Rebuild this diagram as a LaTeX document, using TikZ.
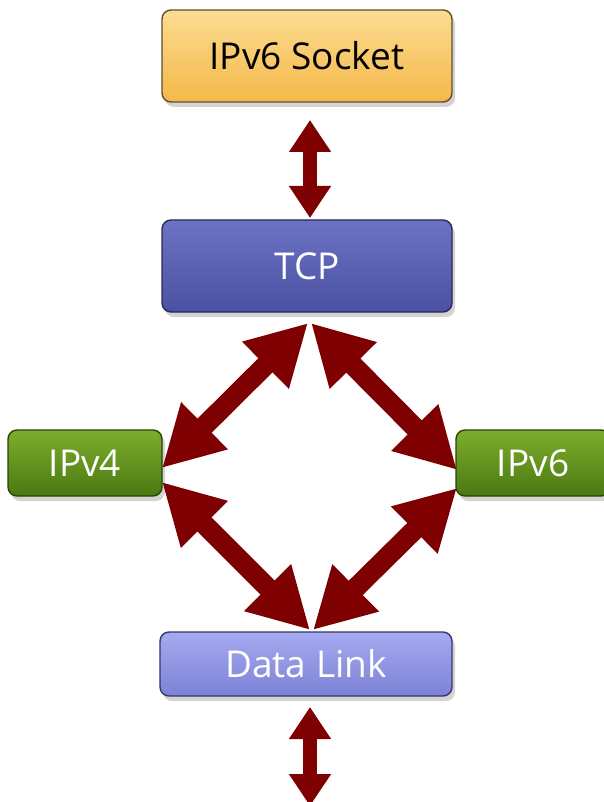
\documentclass[tikz,border=0pt]{standalone}
\usepackage{fontspec}
\setmainfont{Open Sans}
\usetikzlibrary{arrows.meta,shadows,calc}

\definecolor{sockTop}{HTML}{FCDC92}
\definecolor{sockBot}{HTML}{F4B848}
\definecolor{sockEdge}{HTML}{5E5030}
\definecolor{tcpTop}{HTML}{6D73C4}
\definecolor{tcpBot}{HTML}{4A50A2}
\definecolor{tcpEdge}{HTML}{262A58}
\definecolor{ipTop}{HTML}{7CAE2C}
\definecolor{ipBot}{HTML}{4C7812}
\definecolor{ipEdge}{HTML}{2A4406}
\definecolor{dlTop}{HTML}{A6AAF0}
\definecolor{dlBot}{HTML}{7C82D6}
\definecolor{dlEdge}{HTML}{34386A}
\definecolor{arrowRed}{HTML}{7E0000}

\tikzset{
  layer/.style={rectangle, rounded corners=9pt, line width=1.4pt,
    inner sep=0pt, font=\fontsize{37}{44}\selectfont,
    drop shadow={shadow xshift=3pt, shadow yshift=-5pt, opacity=0.35}},
  socket/.style={layer, draw=sockEdge, top color=sockTop, bottom color=sockBot,
    text=black, minimum width=290pt, minimum height=92pt},
  tcpbox/.style={layer, draw=tcpEdge, top color=tcpTop, bottom color=tcpBot,
    text=white, minimum width=290pt, minimum height=92pt},
  ipbox/.style={layer, draw=ipEdge, top color=ipTop, bottom color=ipBot,
    text=white, minimum width=154pt, minimum height=66pt},
  linkbox/.style={layer, draw=dlEdge, top color=dlTop, bottom color=dlBot,
    text=white, minimum width=292pt, minimum height=64pt},
  fatarrow/.style={draw=arrowRed, line width=20pt,
    {Triangle[length=60pt, width=62pt]}-{Triangle[length=60pt, width=62pt]}},
  slimarrow/.style={draw=arrowRed, line width=14pt,
    {Triangle[length=32pt, width=40pt]}-{Triangle[length=32pt, width=40pt]}}
}

\begin{document}
\begin{tikzpicture}[x=1pt, y=-1pt]
  \useasboundingbox (0,0) rectangle (604,802);
  \clip (0,0) rectangle (604,802);

  % protocol layers
  \node[socket]  (sock) at (307,56)  {IPv6 Socket};
  \node[tcpbox]  (tcp)  at (307,266) {TCP};
  \node[ipbox]   (ip4)  at (85,463)  {IPv4};
  \node[ipbox]   (ip6)  at (533,463) {IPv6};
  \node[linkbox] (dl)   at (306,664) {Data Link};

  % arrow end points around the diamond
  \coordinate (tcpL) at (308,323);
  \coordinate (tcpR) at (311,323);
  \coordinate (ip4T) at (162,468);
  \coordinate (ip4B) at (162,482);
  \coordinate (ip6T) at (457,470);
  \coordinate (ip6B) at (457,488);
  \coordinate (dlL)  at (310,630);
  \coordinate (dlR)  at (313,630);
  \coordinate (sockB) at (310,120);
  \coordinate (tcpT)  at (310,218);
  \coordinate (dlB)   at (310,707);
  \coordinate (outB)  at (310,806);

  % connectors
  \draw[slimarrow] (sockB) -- (tcpT);
  \draw[fatarrow] (tcpL) -- (ip4T);
  \draw[fatarrow] (tcpR) -- (ip6T);
  \draw[fatarrow] (ip4B) -- (dlL);
  \draw[fatarrow] (ip6B) -- (dlR);
  \draw[slimarrow] (dlB) -- (outB);
\end{tikzpicture}
\end{document}
